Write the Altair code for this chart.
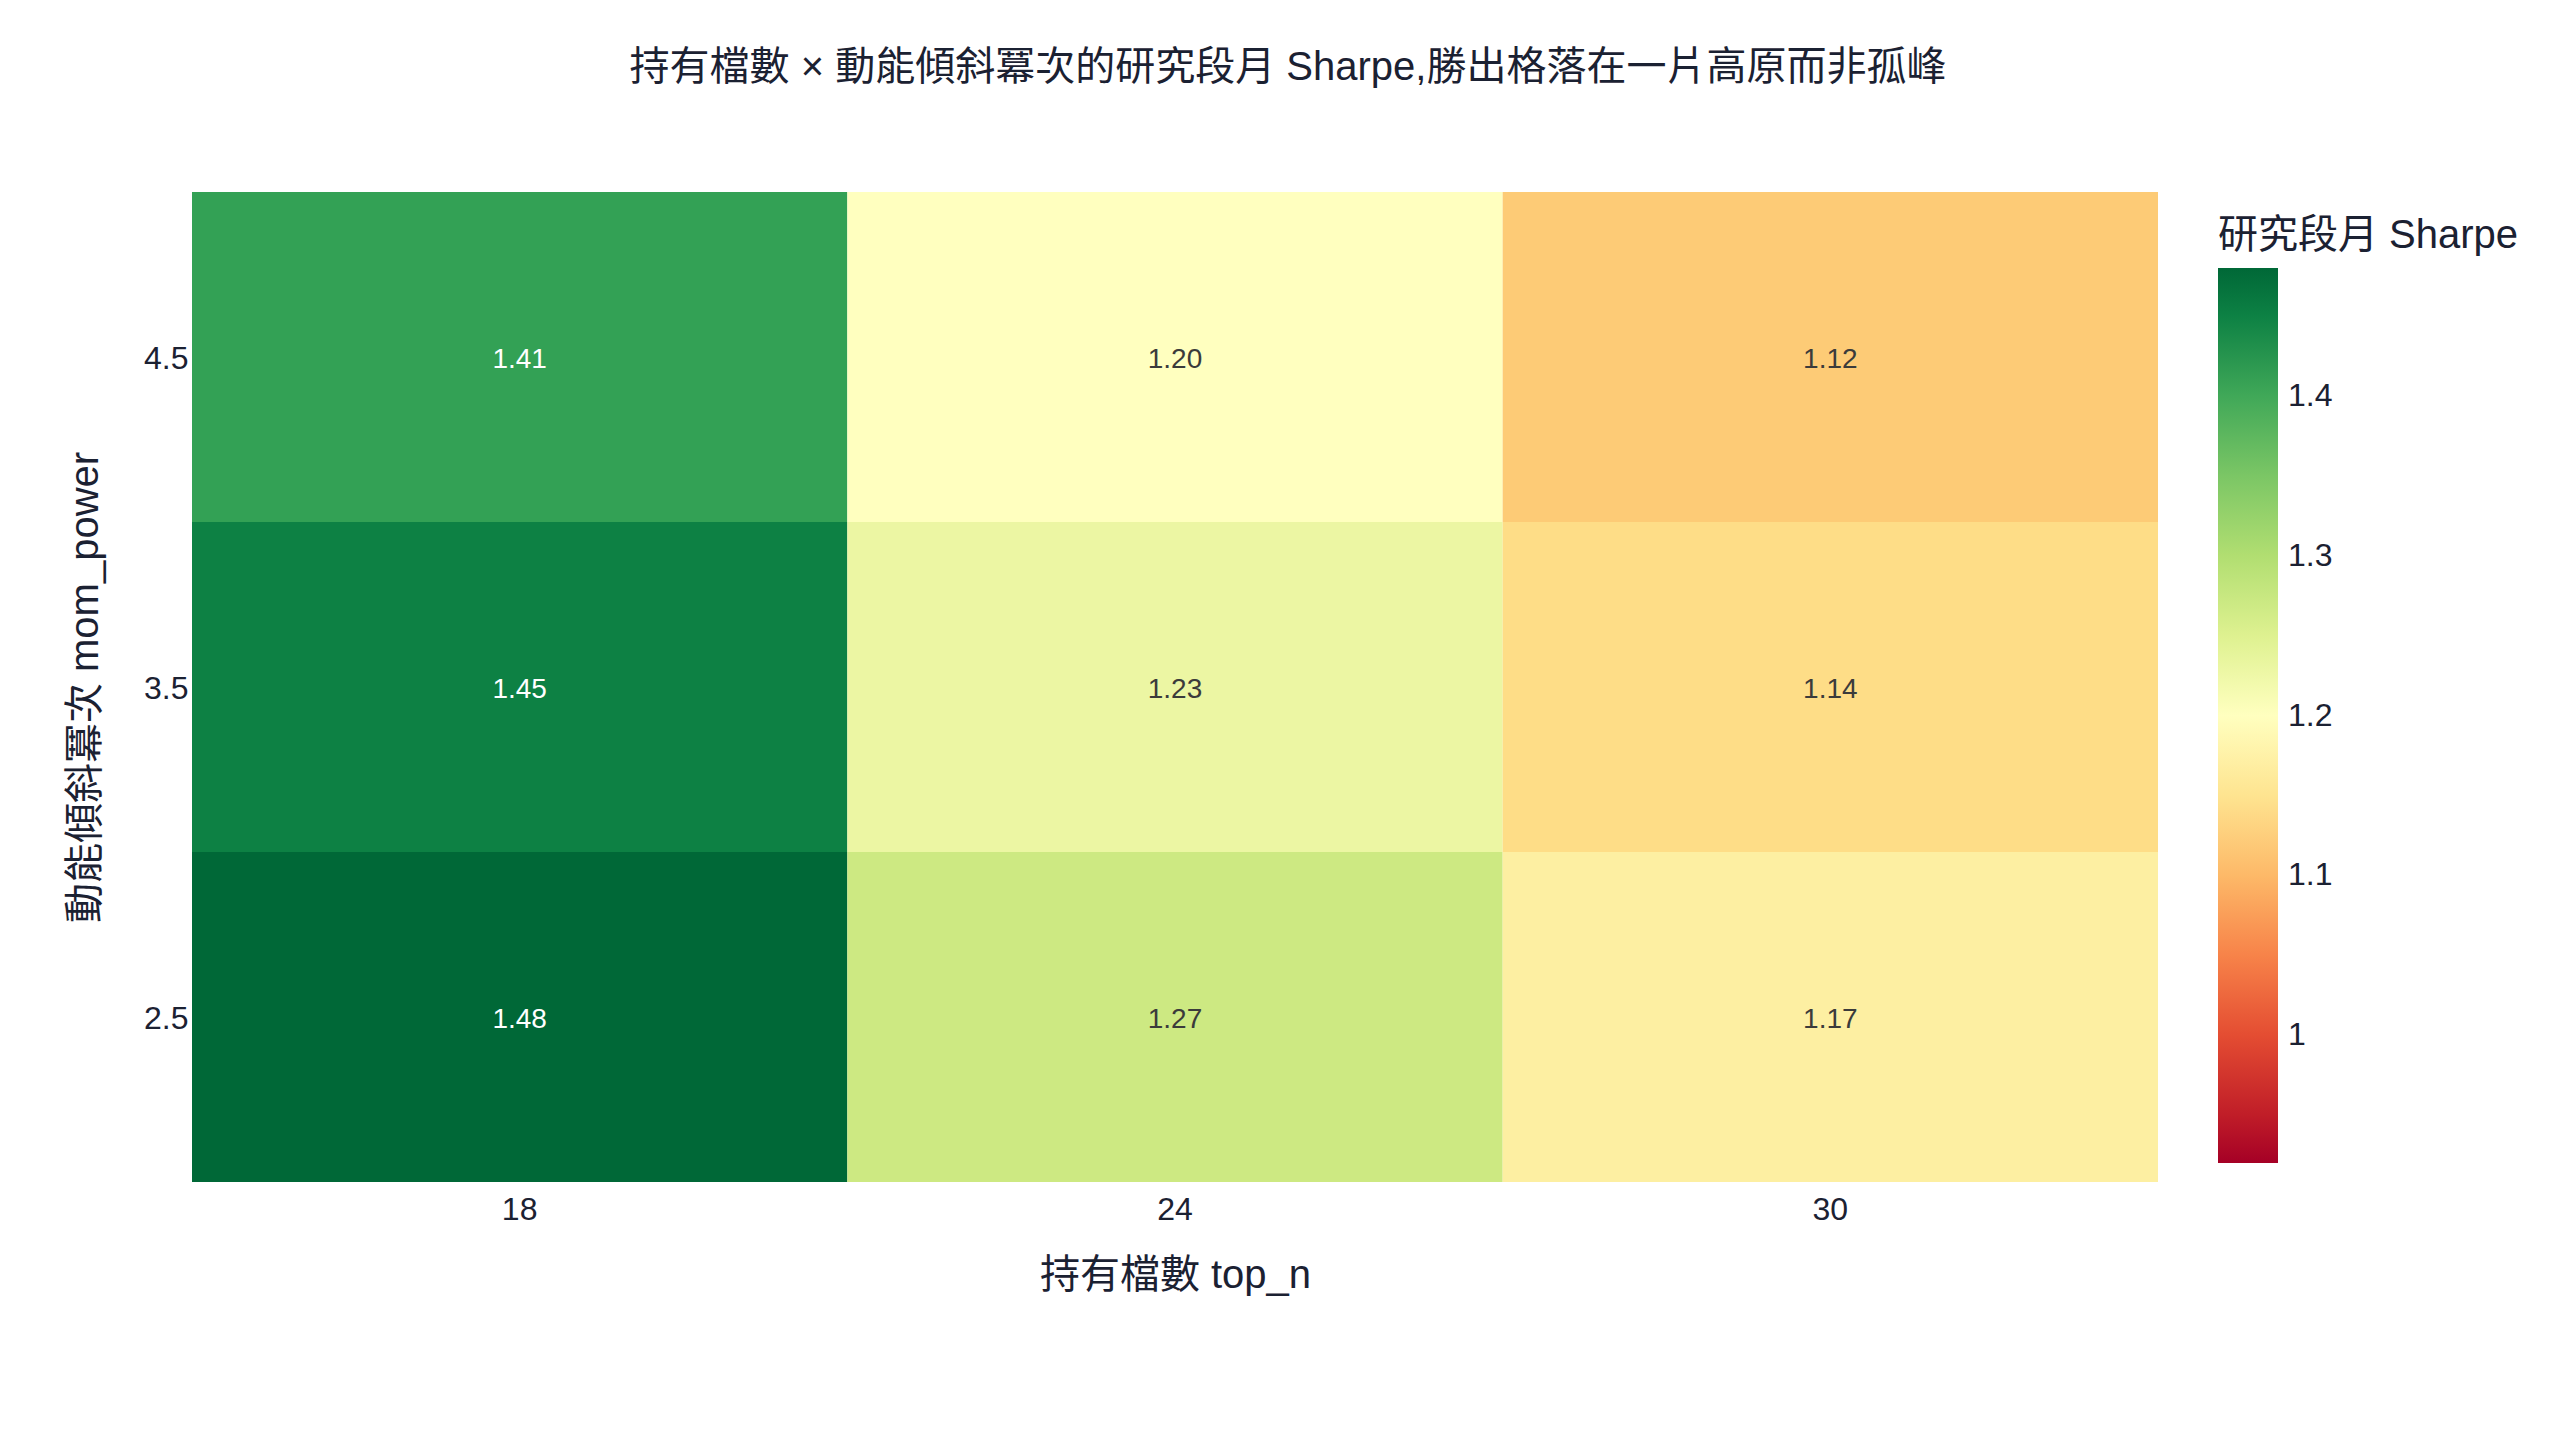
import altair as alt
import pandas as pd

top_n = [18, 24, 30]
mom_power = [2.5, 3.5, 4.5]
# sharpe[i][j]: mom_power[i], top_n[j]
sharpe = [
    [1.48, 1.27, 1.17],
    [1.45, 1.23, 1.14],
    [1.41, 1.20, 1.12],
]
legend_ticks = [1.0, 1.1, 1.2, 1.3, 1.4]

rows = []
for i, mp in enumerate(mom_power):
    for j, tn in enumerate(top_n):
        rows.append({"top_n": str(tn), "mom_power": str(mp), "sharpe": sharpe[i][j]})
df = pd.DataFrame(rows)

FONT = "Liberation Sans, Noto Sans CJK TC, sans-serif"
INK = "#1b2132"

rdylgn = ["#a50026", "#d73027", "#f46d43", "#fdae61", "#fee08b", "#ffffbf",
          "#d9ef8b", "#a6d96a", "#66bd63", "#1a9850", "#006837"]
stops = [0.92, 0.976, 1.032, 1.088, 1.144, 1.2, 1.256, 1.312, 1.368, 1.424, 1.48]

x_enc = alt.X("top_n:O", sort=[str(v) for v in top_n],
              scale=alt.Scale(paddingInner=0, paddingOuter=0),
              axis=alt.Axis(title="持有檔數 top_n", labelAngle=0, domain=False, ticks=False,
                            labelPadding=12, titlePadding=30, labelFontSize=32, titleFontSize=40,
                            titleFontWeight="normal", labelColor=INK, titleColor=INK,
                            labelFont=FONT, titleFont=FONT))
y_enc = alt.Y("mom_power:O", sort=[str(v) for v in reversed(mom_power)],
              scale=alt.Scale(paddingInner=0, paddingOuter=0),
              axis=alt.Axis(title="動能傾斜冪次 mom_power", domain=False, ticks=False,
                            labelPadding=4, titlePadding=38, labelFontSize=32, titleFontSize=40,
                            titleFontWeight="normal", labelColor=INK, titleColor=INK,
                            labelFont=FONT, titleFont=FONT, labelBaseline="middle",
                            labelOffset=2))

base = alt.Chart(df)

heat = base.mark_rect(strokeWidth=0).encode(
    x=x_enc,
    y=y_enc,
    color=alt.Color("sharpe:Q",
                    scale=alt.Scale(domain=stops, range=rdylgn, clamp=True),
                    legend=alt.Legend(title="研究段月 Sharpe", orient="none",
                                      legendX=2026, legendY=24,
                                      direction="vertical",
                                      gradientLength=895, gradientThickness=60,
                                      gradientStrokeWidth=0,
                                      values=legend_ticks, format=".2~f",
                                      labelFontSize=32, labelOffset=10, labelColor=INK,
                                      labelFont=FONT, titleFont=FONT,
                                      titleFontSize=40, titleFontWeight="normal",
                                      titleColor=INK, titlePadding=12, titleLimit=600)),
)

labels = base.mark_text(fontSize=28, font=FONT, dy=3).encode(
    x=alt.X("top_n:O", sort=[str(v) for v in top_n]),
    y=alt.Y("mom_power:O", sort=[str(v) for v in reversed(mom_power)]),
    text=alt.Text("sharpe:Q", format=".2f"),
    color=alt.condition(alt.datum.sharpe > 1.35, alt.value("#ffffff"), alt.value("#3b3b3b")),
)

chart = (heat + labels).properties(
    width=1966,
    height=990,
    title=alt.TitleParams("持有檔數 × 動能傾斜冪次的研究段月 Sharpe,勝出格落在一片高原而非孤峰",
                          anchor="middle", fontSize=40, fontWeight="normal", font=FONT,
                          color=INK, offset=104, dx=113),
    autosize=alt.AutoSizeParams(type="none"),
    padding={"left": 184, "top": 184, "right": 394, "bottom": 250},
).configure_view(stroke=None)

chart.save("out.html", embed_options={"renderer": "svg", "actions": False})
